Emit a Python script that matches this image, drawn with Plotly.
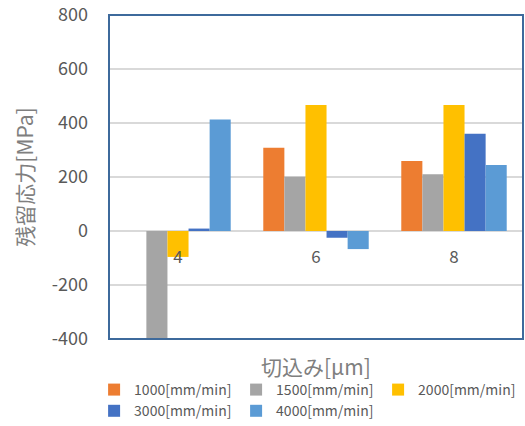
import plotly.graph_objects as go

categories = ["4", "6", "8"]
series_names = ["1000[mm/min]", "1500[mm/min]", "2000[mm/min]", "3000[mm/min]", "4000[mm/min]"]
v1000 = [None, 308, 259]
v1500 = [-410, 201, 210]
v2000 = [-96, 467, 467]
v3000 = [9, -25, 360]
v4000 = [413, -67, 244]
series_values = [v1000, v1500, v2000, v3000, v4000]
colors = ["#ED7D31", "#A5A5A5", "#FFC000", "#4472C4", "#5B9BD5"]
y_ticks = [-400, -200, 0, 200, 400, 600, 800]
y_tick_labels = ["-400", "-200", "0", "200", "400", "600", "800"]

FONT = "Noto Sans CJK JP"

fig = go.Figure()
for name, vals, col in zip(series_names, series_values, colors):
    fig.add_trace(go.Bar(x=categories, y=vals, name=name, marker=dict(color=col, line=dict(width=0))))

fig.update_layout(
    width=525, height=426,
    margin=dict(l=109, r=2, t=15, b=87, autoexpand=False),
    paper_bgcolor="white", plot_bgcolor="white",
    barmode="group", bargap=0.236, bargroupgap=0,
    font=dict(family=FONT, color="#595959"),
    showlegend=True,
    legend=dict(orientation="h", x=-0.036, xanchor="left",
                y=-0.108, yanchor="top",
                entrywidth=97, entrywidthmode="pixels",
                font=dict(size=14, color="#595959"), itemwidth=30,
                tracegroupgap=0, bgcolor="rgba(0,0,0,0)"),
    xaxis=dict(type="category", anchor="free", position=400/1200,
               showline=False, showgrid=False, ticks="", ticklen=0,
               ticklabelstandoff=14,
               tickfont=dict(size=17, color="#595959")),
    yaxis=dict(range=[-400, 800], tickvals=y_ticks, ticktext=y_tick_labels, showgrid=True,
               gridcolor="#D9D9D9", gridwidth=1.5, zeroline=True,
               zerolinecolor="#D9D9D9", zerolinewidth=1.5,
               showline=False, ticks="", ticklabelstandoff=20,
               tickfont=dict(size=18, color="#595959"),
               title=dict(text="残留応力[MPa]", font=dict(size=21, color="#7F7F7F"), standoff=12)),
    shapes=[dict(type="rect", xref="paper", yref="paper", x0=0, x1=1, y0=0, y1=1,
                 line=dict(color="#3E6A9C", width=2), fillcolor="rgba(0,0,0,0)", layer="above")],
    annotations=[dict(text="切込み[μm]", xref="paper", yref="paper", x=0.5, y=-0.03,
                      xanchor="center", yanchor="top", showarrow=False,
                      font=dict(size=21, color="#7F7F7F"))],
)

fig.write_html("out.html")
